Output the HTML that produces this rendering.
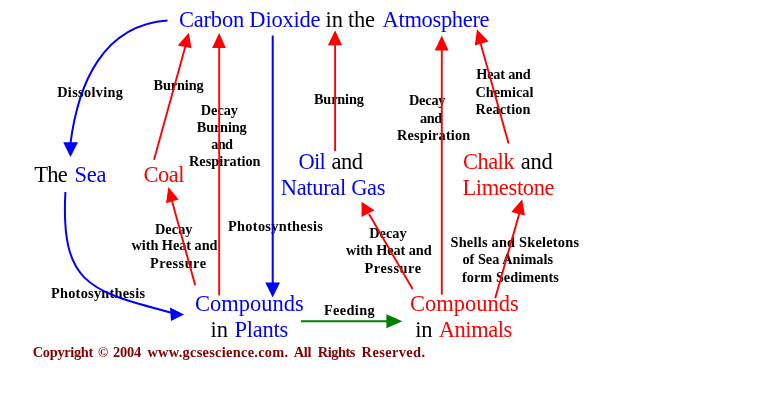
<!DOCTYPE html>
<html>
<head>
<meta charset="utf-8">
<title>The Carbon Cycle</title>
<style>
html,body{margin:0;padding:0;background:#fff;}
body{width:761px;height:407px;overflow:hidden;position:relative;font-family:"Liberation Serif",serif;}
svg{position:absolute;left:0;top:0;display:block;}
.big{font-family:"Liberation Serif",serif;font-size:22.5px;fill:#000;}
.lab{font-family:"Liberation Serif",serif;font-size:14.3px;font-weight:bold;fill:#000;}
.cr{font-family:"Liberation Serif",serif;font-size:14.4px;font-weight:bold;fill:#800000;}
.b{fill:#0000ff;}
.r{fill:#ff0000;}
</style>
</head>
<body>
<svg width="761" height="407" viewBox="0 0 761 407">
  <defs><filter id="soft" x="0" y="0" width="761" height="407" filterUnits="userSpaceOnUse"><feGaussianBlur stdDeviation="0.45"/></filter></defs>
  <rect x="0" y="0" width="761" height="407" fill="#ffffff"/>
  <g filter="url(#soft)">

  <!-- big headings -->
  <g class="big">
    <text x="179" y="27.4" textLength="141.6" lengthAdjust="spacing" class="b">Carbon Dioxide</text>
    <text x="325.6" y="27.4" textLength="49.5" lengthAdjust="spacing">in the</text>
    <text x="382.6" y="27.4" textLength="107" lengthAdjust="spacing" class="b">Atmosphere</text>

    <text x="34.2" y="182" textLength="33.6" lengthAdjust="spacing">The</text>
    <text x="74.6" y="182" textLength="31.8" lengthAdjust="spacing" class="b">Sea</text>

    <text x="143.5" y="182" textLength="41" lengthAdjust="spacing" class="r">Coal</text>

    <text x="298.6" y="168.5" textLength="27.2" lengthAdjust="spacing" class="b">Oil</text>
    <text x="331.5" y="168.5" textLength="31.5" lengthAdjust="spacing">and</text>
    <text x="280.8" y="194.8" textLength="104.7" lengthAdjust="spacing" class="b">Natural Gas</text>

    <text x="463" y="169" textLength="51.5" lengthAdjust="spacing" class="r">Chalk</text>
    <text x="520.8" y="169" textLength="32" lengthAdjust="spacing">and</text>
    <text x="462.4" y="195.2" textLength="92.2" lengthAdjust="spacing" class="r">Limestone</text>

    <text x="195" y="311" textLength="108.8" lengthAdjust="spacing" class="b">Compounds</text>
    <text x="210.5" y="336.9" textLength="17.5" lengthAdjust="spacing">in</text>
    <text x="234.4" y="336.9" textLength="53.8" lengthAdjust="spacing" class="b">Plants</text>

    <text x="410" y="311" textLength="108.8" lengthAdjust="spacing" class="r">Compounds</text>
    <text x="415.2" y="336.9" textLength="17.2" lengthAdjust="spacing">in</text>
    <text x="438.8" y="336.9" textLength="73.5" lengthAdjust="spacing" class="r">Animals</text>
  </g>

  <!-- small labels -->
  <g class="lab">
    <text x="57.2" y="97.4" textLength="65.8" lengthAdjust="spacing">Dissolving</text>
    <text x="153.6" y="89.6" textLength="50" lengthAdjust="spacing">Burning</text>

    <text x="200.8" y="114.6" textLength="37.2" lengthAdjust="spacing">Decay</text>
    <text x="196.8" y="131.6" textLength="49.8" lengthAdjust="spacing">Burning</text>
    <text x="211.3" y="148.6" textLength="21.6" lengthAdjust="spacing">and</text>
    <text x="189" y="165.6" textLength="71.5" lengthAdjust="spacing">Respiration</text>

    <text x="314" y="103.8" textLength="49.8" lengthAdjust="spacing">Burning</text>

    <text x="409" y="105.3" textLength="36.5" lengthAdjust="spacing">Decay</text>
    <text x="420" y="122.6" textLength="22.2" lengthAdjust="spacing">and</text>
    <text x="397" y="139.6" textLength="73.3" lengthAdjust="spacing">Respiration</text>

    <text x="476.3" y="79.3" textLength="54.5" lengthAdjust="spacing">Heat and</text>
    <text x="475.5" y="96.6" textLength="57.9" lengthAdjust="spacing">Chemical</text>
    <text x="475.5" y="113.6" textLength="55" lengthAdjust="spacing">Reaction</text>

    <text x="155" y="233.5" textLength="37.5" lengthAdjust="spacing">Decay</text>
    <text x="131.5" y="250" textLength="86" lengthAdjust="spacing">with Heat and</text>
    <text x="150" y="267.5" textLength="56" lengthAdjust="spacing">Pressure</text>

    <text x="228" y="231.4" textLength="94.8" lengthAdjust="spacing">Photosynthesis</text>
    <text x="51" y="297.5" textLength="94" lengthAdjust="spacing">Photosynthesis</text>

    <text x="369.2" y="238.3" textLength="37.4" lengthAdjust="spacing">Decay</text>
    <text x="346" y="254.9" textLength="85.6" lengthAdjust="spacing">with Heat and</text>
    <text x="364.5" y="272.8" textLength="56.5" lengthAdjust="spacing">Pressure</text>

    <text x="450.5" y="247" textLength="128.5" lengthAdjust="spacing">Shells and Skeletons</text>
    <text x="462.4" y="264.3" textLength="90.6" lengthAdjust="spacing">of Sea Animals</text>
    <text x="462" y="282.3" textLength="96.9" lengthAdjust="spacing">form Sediments</text>

    <text x="324" y="315" textLength="50.6" lengthAdjust="spacing">Feeding</text>
  </g>

  <g class="cr">
    <text x="32.8" y="356.7" textLength="60.5" lengthAdjust="spacing">Copyright</text>
    <text x="98" y="356.7" textLength="10.2" lengthAdjust="spacingAndGlyphs">©</text>
    <text x="112.9" y="356.7" textLength="28.4" lengthAdjust="spacing">2004</text>
    <text x="147.4" y="356.7" textLength="140.8" lengthAdjust="spacing">www.gcsescience.com.</text>
    <text x="293.7" y="356.7" textLength="17.8" lengthAdjust="spacing">All</text>
    <text x="317.8" y="356.7" textLength="37.5" lengthAdjust="spacing">Rights</text>
    <text x="361.6" y="356.7" textLength="63.5" lengthAdjust="spacing">Reserved.</text>
  </g>

  <!-- blue arrows -->
  <g fill="none" stroke="#0000ff" stroke-width="2">
    <path d="M167.5 20.5 C 102.2 25, 78.1 84.7, 70.5 143"/>
    <path d="M65.4 192 C 60.3 287, 92.4 291, 171.4 312.8"/>
    <path d="M272.7 35.5 L272.7 284"/>
  </g>
  <g fill="#0000ff" stroke="none">
    <polygon points="70.5,157 63.2,142.2 78,142.2"/>
    <polygon points="184,314.4 170,307.5 171,321"/>
    <polygon points="272.7,297.4 265.3,282.6 280,282.6"/>
  </g>

  <!-- red arrows -->
  <g fill="none" stroke="#ff0000" stroke-width="1.9">
    <path d="M154 159.8 L185.5 46"/>
    <path d="M219.2 295.5 L219.2 46"/>
    <path d="M335.1 151 L335.1 44"/>
    <path d="M441.8 294.6 L441.8 49"/>
    <path d="M508.6 143.6 L480.5 43"/>
    <path d="M195.2 285.3 L172 201"/>
    <path d="M412.6 289 L369 214"/>
    <path d="M495.2 298.2 L519.2 214"/>
  </g>
  <g fill="#ff0000" stroke="none">
    <polygon points="188.9,32.8 177.7,45.6 191.5,48.3"/>
    <polygon points="219.2,33 212.1,48 225.9,48"/>
    <polygon points="335.1,30.2 327.9,45.3 342.1,45.3"/>
    <polygon points="441.8,35.6 434.7,50.4 448.6,50.4"/>
    <polygon points="477,29.3 474.8,45.4 488.6,41.5"/>
    <polygon points="168.4,186.9 166,203.2 178.7,199.4"/>
    <polygon points="361.5,201.8 361.6,217 374.5,210.2"/>
    <polygon points="522.2,199.3 511.3,212.1 524.9,215.4"/>
  </g>

  <!-- green arrow -->
  <path d="M301 321.3 L388 321.3" fill="none" stroke="#008000" stroke-width="2"/>
  <polygon points="402.3,321.2 386.4,314.2 386.4,328.3" fill="#008000"/>
  </g>
</svg>
</body>
</html>
